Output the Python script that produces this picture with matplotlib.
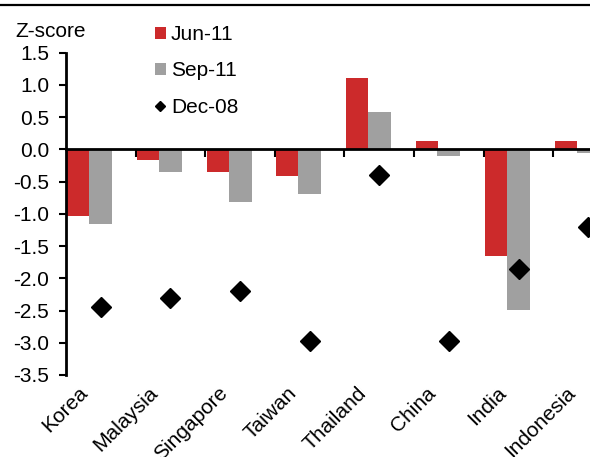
import matplotlib
matplotlib.use("Agg")
import matplotlib.pyplot as plt
from matplotlib.patches import Patch
from matplotlib.lines import Line2D
import matplotlib.transforms as mtransforms
import numpy as np

plt.rcParams['font.family'] = ['Liberation Sans', 'DejaVu Sans']
plt.rcParams['axes.unicode_minus'] = False

# Z-scores por país
countries = ['Korea', 'Malaysia', 'Singapore', 'Taiwan', 'Thailand', 'China', 'India', 'Indonesia']
jun_11 = [-1.03, -0.16, -0.35, -0.41, 1.10, 0.13, -1.65, 0.13]
sep_11 = [-1.16, -0.35, -0.81, -0.69, 0.58, -0.11, -2.49, -0.05]
dec_08 = [-2.44, -2.31, -2.19, -2.98, -0.40, -2.98, -1.85, -1.20]

RED = '#CC2A2B'
GREY = '#A0A0A0'
FS = 15

fig = plt.figure(figsize=(5.90, 4.57), dpi=100)
# el eje se extiende más allá del borde derecho (Indonesia queda cortada)
ax = fig.add_axes([66 / 590, 1 - 375 / 457, 557 / 590, (375 - 52.7) / 457])

x = np.arange(len(countries))
w = 0.32
ax.bar(x - 0.33 + 0.01, jun_11, width=w, color=RED, align='center', zorder=2)
ax.bar(x, sep_11, width=w + 0.01, color=GREY, align='center', zorder=2)
ax.plot(x, dec_08, linestyle='none', marker='D', markersize=10.5,
        color='black', zorder=3)

ax.set_xlim(-0.5, len(countries) - 0.5)
ax.set_ylim(-3.5, 1.5)

# Eje Y
yt = np.arange(-3.5, 1.51, 0.5)
ax.set_yticks(yt)
ax.set_yticklabels([f'{v:.1f}' for v in yt], fontsize=FS)
ax.tick_params(axis='y', direction='out', length=5, width=1.5, pad=7)
ax.spines['left'].set_linewidth(2)
ax.spines['right'].set_visible(False)
ax.spines['top'].set_visible(False)

# Eje X en cero con marcas entre categorías
ax.spines['bottom'].set_position(('data', 0))
ax.spines['bottom'].set_linewidth(2)
ax.spines['bottom'].set_zorder(4)
ax.set_xticks(x[:-1] + 0.5)
ax.set_xticklabels([])
ax.tick_params(axis='x', direction='out', length=6, width=1.5)

# Etiquetas de países abajo
sec = ax.secondary_xaxis(location=0.0)
sec.spines['bottom'].set_visible(False)
sec.set_xticks(x)
sec.set_xticklabels(countries, fontsize=FS, rotation=45, ha='right')
sec.tick_params(axis='x', length=0, pad=6)
offset = mtransforms.ScaledTranslation(-9 / 100, 0, fig.dpi_scale_trans)
for lbl in sec.get_xticklabels():
    lbl.set_transform(lbl.get_transform() + offset)

fig.text(15 / 590, 1 - 37 / 457, 'Z-score', fontsize=FS, ha='left', va='baseline')

handles = [
    Patch(facecolor=RED, edgecolor='none'),
    Patch(facecolor=GREY, edgecolor='none'),
    Line2D([], [], linestyle='none', marker='D', markersize=5.6, color='black'),
]
fig.legend(handles, ['Jun-11', 'Sep-11', 'Dec-08'], loc='upper left',
           bbox_to_anchor=(155 / 590, 1 - 25 / 457), frameon=False, fontsize=FS,
           handlelength=0.52, handleheight=0.52, handletextpad=0.25,
           labelspacing=0.84, borderpad=0, borderaxespad=0)

# línea superior
fig.add_artist(Line2D([0, 1], [1 - 5 / 457, 1 - 5 / 457], color='black',
                      linewidth=1.6, transform=fig.transFigure))

fig.savefig('out.png', dpi=100)
